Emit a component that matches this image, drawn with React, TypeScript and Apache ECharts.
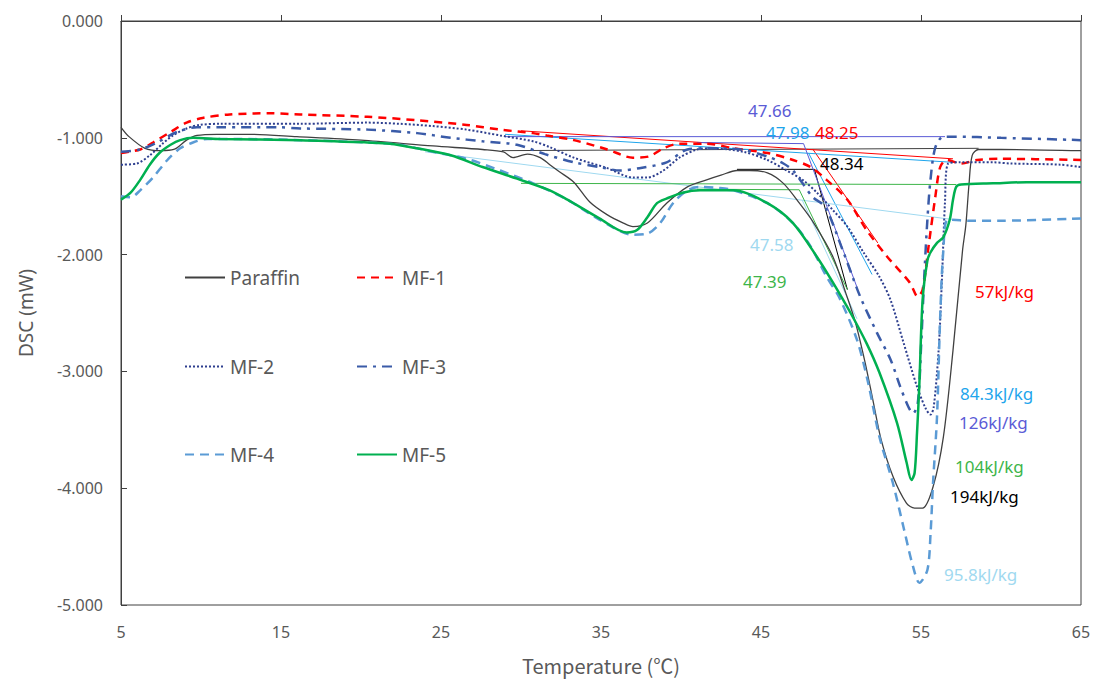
import React, { useEffect, useRef } from "react";
import * as echarts from "echarts";

// ---- data (temperature °C, DSC mW) ----
const paraffinT = [5, 5.5, 6.5, 7.5, 8.3, 9.1, 9.75, 11, 13, 16, 20, 24.5, 27.6, 28.9, 29.5, 30.4, 31.2, 31.8, 32.4, 33.3, 34.3, 35.4, 36.4, 37, 37.9, 39.1, 40.4, 41.6, 42.5, 43.5, 44.3, 45.4, 46.4, 47.4, 48.3, 49.5, 50.3, 50.9, 51.5, 52.0, 52.5, 53.25, 54.1, 54.6, 55.1, 55.75, 56.4, 57, 57.6, 57.8, 58.0, 58.2, 58.6, 60, 65];
const paraffinV = [-0.91, -0.99, -1.09, -1.11, -1.10, -1.02, -0.98, -0.97, -0.97, -0.99, -1.02, -1.07, -1.10, -1.12, -1.17, -1.14, -1.17, -1.23, -1.29, -1.38, -1.55, -1.66, -1.73, -1.76, -1.73, -1.56, -1.42, -1.36, -1.32, -1.28, -1.28, -1.30, -1.39, -1.56, -1.73, -2.02, -2.33, -2.58, -2.92, -3.25, -3.58, -3.90, -4.13, -4.17, -4.17, -3.99, -3.56, -2.82, -1.96, -1.75, -1.40, -1.15, -1.10, -1.10, -1.11];

const mf1T = [5, 6.2, 7, 8.1, 9.1, 10.1, 11.8, 14.3, 16.2, 20.4, 23.5, 26.6, 28.7, 30.75, 31.6, 33.3, 35.4, 37, 38, 38.9, 39.9, 41.6, 43.3, 45.4, 47, 48.1, 49.1, 50.4, 51.6, 52.9, 54.3, 54.8, 55.1, 55.5, 55.9, 56.2, 56.6, 57.5, 58.5, 60, 65];
const mf1V = [-1.13, -1.10, -1.04, -0.95, -0.87, -0.83, -0.80, -0.79, -0.80, -0.82, -0.85, -0.89, -0.93, -0.96, -0.98, -1.02, -1.10, -1.17, -1.16, -1.09, -1.05, -1.05, -1.09, -1.13, -1.19, -1.25, -1.36, -1.53, -1.79, -2.02, -2.24, -2.36, -2.30, -1.90, -1.50, -1.25, -1.19, -1.22, -1.19, -1.18, -1.19];

const mf2T = [5, 6, 6.8, 7.6, 8.25, 9.1, 9.9, 11.2, 16.2, 20.4, 22.4, 24.5, 26.6, 28.7, 30.75, 31.8, 33.3, 35.4, 37, 37.9, 38.9, 39.9, 41, 41.8, 43.9, 45.4, 46.6, 47.6, 48.5, 49.5, 50.4, 51.4, 52.4, 53.1, 53.9, 54.75, 55.3, 55.6, 55.8, 56.1, 56.3, 56.5, 56.7, 57.4, 59.5, 60.6, 63.7, 65];
const mf2V = [-1.23, -1.22, -1.15, -1.05, -0.98, -0.92, -0.89, -0.88, -0.88, -0.87, -0.88, -0.90, -0.93, -0.98, -1.03, -1.08, -1.17, -1.26, -1.34, -1.34, -1.28, -1.17, -1.10, -1.09, -1.12, -1.19, -1.28, -1.36, -1.47, -1.62, -1.76, -1.98, -2.19, -2.39, -2.75, -3.13, -3.32, -3.37, -3.30, -2.82, -2.24, -1.55, -1.22, -1.21, -1.21, -1.22, -1.23, -1.25];

const mf3T = [5, 6.2, 7.25, 8.5, 9.75, 11.2, 14.9, 16.2, 20.4, 23.5, 25.6, 27.6, 29.75, 31.5, 33.3, 34.9, 36.2, 37.4, 39.1, 40.4, 41.6, 43.7, 45.4, 46.4, 47, 47.6, 48.25, 49, 50.1, 51.2, 52.25, 53.1, 53.7, 54.2, 54.5, 54.8, 55.0, 55.2, 55.4, 55.6, 55.9, 56.4, 57, 60, 65];
const mf3V = [-1.12, -1.10, -1.04, -0.95, -0.91, -0.91, -0.91, -0.92, -0.93, -0.96, -1.0, -1.03, -1.06, -1.14, -1.21, -1.25, -1.28, -1.26, -1.21, -1.10, -1.09, -1.10, -1.16, -1.22, -1.28, -1.39, -1.51, -1.59, -1.96, -2.36, -2.67, -2.90, -3.13, -3.30, -3.36, -3.27, -2.80, -2.20, -1.70, -1.35, -1.08, -0.99, -0.99, -1.0, -1.02];

const mf4T = [5, 5.6, 6.2, 7, 7.9, 8.7, 9.5, 10.4, 12.25, 16.2, 20.4, 22.4, 24.5, 26.6, 28.7, 30.75, 32.9, 34.9, 37, 37.9, 38.7, 39.5, 40.4, 41.2, 42.4, 43.3, 45.4, 47, 48.1, 49.1, 49.9, 51, 51.7, 52.4, 53.25, 53.9, 54.5, 54.9, 55.4, 55.6, 55.75, 56, 56.2, 56.4, 56.7, 58, 60, 65];
const mf4V = [-1.50, -1.51, -1.45, -1.34, -1.19, -1.09, -1.04, -1.01, -1.01, -1.02, -1.04, -1.06, -1.12, -1.18, -1.28, -1.39, -1.53, -1.70, -1.83, -1.82, -1.73, -1.56, -1.45, -1.42, -1.43, -1.45, -1.56, -1.73, -1.93, -2.19, -2.37, -2.73, -3.10, -3.56, -3.96, -4.33, -4.67, -4.81, -4.70, -4.38, -3.96, -3.39, -2.53, -1.96, -1.70, -1.71, -1.71, -1.69];

const mf5T = [5, 5.6, 6.2, 6.8, 7.4, 8.1, 8.7, 9.5, 11.2, 16.2, 20.4, 21.8, 23.5, 25.6, 27.6, 29.75, 31.8, 32.9, 34.9, 36.6, 37.25, 37.9, 38.5, 39.1, 40.1, 41.2, 42.4, 43.3, 45.4, 47, 48.5, 49.5, 50.6, 51.6, 52.4, 53.5, 54.1, 54.4, 54.6, 54.75, 54.9, 55.1, 55.4, 55.6, 56, 56.4, 56.8, 57.0, 57.2, 57.5, 59.5, 61.6, 65];
const mf5V = [-1.53, -1.47, -1.36, -1.23, -1.13, -1.06, -1.02, -1.0, -1.01, -1.02, -1.04, -1.05, -1.09, -1.15, -1.25, -1.35, -1.45, -1.53, -1.69, -1.81, -1.79, -1.68, -1.56, -1.52, -1.47, -1.45, -1.45, -1.45, -1.56, -1.73, -2.02, -2.24, -2.50, -2.76, -3.01, -3.44, -3.78, -3.93, -3.87, -3.53, -3.10, -2.39, -2.05, -1.98, -1.90, -1.85, -1.70, -1.53, -1.42, -1.40, -1.39, -1.38, -1.38];

// construction (baseline / tangent) lines: [T, V] end points
const paraffinBase = [[28.8, -1.11], [58.6, -1.09]];
const paraffinTan = [[43.5, -1.27], [48.34, -1.27], [50.4, -2.30]];
const mf1Base = [[30, -0.94], [57, -1.18]];
const mf1Tan = [[48.25, -1.10], [52.3, -1.90]];
const mf2Base = [[29, -0.97], [57, -1.21]];
const mf2Tan = [[47.98, -1.133], [51.94, -2.17]];
const mf3Base = [[29, -0.99], [56.5, -0.99]];
const mf3Tan = [[41, -1.04], [47.66, -1.05], [51, -2.28]];
const mf4Base = [[24, -1.12], [57, -1.70]];
const mf4Tan = [[47.58, -1.535], [51, -2.55]];
const mf5Base = [[30, -1.39], [57.2, -1.40]];
const mf5Tan = [[41, -1.44], [47.39, -1.445], [50.4, -2.30]];

const xTicks = { min: 5, max: 65, step: 10 };
const yTicks = { min: -5, max: 0, step: 1 };

const onsetLabels = ["47.66", "47.98", "48.25", "48.34", "47.58", "47.39"];
const enthalpyLabels = ["57kJ/kg", "84.3kJ/kg", "126kJ/kg", "104kJ/kg", "194kJ/kg", "95.8kJ/kg"];

const zip = (t: number[], v: number[]) => t.map((x, i) => [x, v[i]]);

const C = {
  paraffin: "#404040",
  mf1: "#FF0000",
  mf2: "#2E3F8F",
  mf3: "#3A5BA8",
  mf4: "#5B9BD5",
  mf5: "#00B050",
  purple: "#5B5BD6",
  lblue: "#1EA5EC",
  cyan: "#9FD9F0",
  green: "#3DB54A",
  gray: "#595959",
};

export default function App() {
  const ref = useRef<HTMLDivElement>(null);
  useEffect(() => {
    if (!ref.current) return;
    const chart = echarts.init(ref.current, null, { renderer: "svg" });
    const font = "'Noto Sans', 'Open Sans', sans-serif";
    const main = (name: string, t: number[], v: number[], color: string, width: number, type: any) => ({
      name,
      type: "line",
      data: zip(t, v),
      showSymbol: false,
      symbol: "none",
      smooth: 0.3,
      lineStyle: { color, width, type },
      itemStyle: { color },
      z: 3,
    });
    const thin = (id: string, data: number[][], color: string) => ({
      name: id,
      type: "line",
      data,
      showSymbol: false,
      symbol: "none",
      silent: true,
      lineStyle: { color, width: 1 },
      z: 2,
    });
    const legendItem = (name: string, left: number, top: number) => ({
      data: [name],
      left,
      top,
      padding: 0,
      itemWidth: 40,
      itemHeight: 12,
      itemGap: 7,
      itemStyle: { opacity: 0, color: "transparent", borderWidth: 0 },
      textStyle: { fontSize: 19, color: C.gray, fontFamily: font },
      selectedMode: false,
    });
    const label = (text: string, x: number, y: number, color: string) => ({
      type: "text",
      x,
      y,
      style: { text, fill: color, font: `17px ${font}`, textVerticalAlign: "middle" },
      z: 10,
    });
    chart.setOption({
      animation: false,
      grid: { left: 121, right: 16, top: 21, bottom: 80, show: true, borderColor: C.paraffin, borderWidth: 1 },
      xAxis: {
        type: "value",
        min: xTicks.min,
        max: xTicks.max,
        interval: xTicks.step,
        name: "Temperature (℃)",
        nameLocation: "middle",
        nameGap: 50,
        nameTextStyle: { fontSize: 20, color: C.gray, fontFamily: "Noto Sans CJK SC" },
        axisLine: { lineStyle: { color: C.paraffin, width: 1 } },
        axisTick: { inside: true, length: 6, lineStyle: { color: C.paraffin } },
        axisLabel: { fontSize: 16, color: C.gray, margin: 19, fontFamily: font },
        splitLine: { show: false },
      },
      yAxis: {
        type: "value",
        min: yTicks.min,
        max: yTicks.max,
        interval: yTicks.step,
        name: "DSC (mW)",
        nameLocation: "middle",
        nameGap: 86,
        nameTextStyle: { fontSize: 19, color: C.gray, fontFamily: font },
        axisLine: { show: true, lineStyle: { color: C.paraffin, width: 1 } },
        axisTick: { show: true, inside: true, length: 6, lineStyle: { color: C.paraffin } },
        axisLabel: { fontSize: 16, color: C.gray, margin: 18, fontFamily: font, formatter: (v: number) => v.toFixed(3) },
        splitLine: { show: false },
      },
      legend: [
        legendItem("Paraffin", 184, 268),
        legendItem("MF-1", 356, 268),
        legendItem("MF-2", 184, 357),
        legendItem("MF-3", 356, 357),
        legendItem("MF-4", 184, 445),
        legendItem("MF-5", 356, 445),
      ],
      series: [
        thin("b0", paraffinBase, C.paraffin),
        thin("t0", paraffinTan, "#000000"),
        thin("b1", mf1Base, C.mf1),
        thin("t1", mf1Tan, C.mf1),
        thin("b2", mf2Base, C.lblue),
        thin("t2", mf2Tan, C.lblue),
        thin("b3", mf3Base, C.purple),
        thin("t3", mf3Tan, C.purple),
        thin("b4", mf4Base, C.cyan),
        thin("t4", mf4Tan, C.cyan),
        thin("b5", mf5Base, C.green),
        thin("t5", mf5Tan, C.green),
        main("Paraffin", paraffinT, paraffinV, C.paraffin, 1.3, "solid"),
        main("MF-1", mf1T, mf1V, C.mf1, 2.5, [8, 6]),
        main("MF-2", mf2T, mf2V, C.mf2, 2, [2, 2]),
        main("MF-3", mf3T, mf3V, C.mf3, 2.5, [10, 6, 3, 6]),
        main("MF-4", mf4T, mf4V, C.mf4, 2.5, [9, 6]),
        main("MF-5", mf5T, mf5V, C.mf5, 2.5, "solid"),
      ],
      graphic: [
        label(onsetLabels[0], 748, 110, C.purple),
        label(onsetLabels[1], 766, 132, C.lblue),
        label(onsetLabels[2], 815, 132, C.mf1),
        label(onsetLabels[3], 820, 163, "#000000"),
        label(onsetLabels[4], 750, 244, C.cyan),
        label(onsetLabels[5], 743, 281, C.green),
        label(enthalpyLabels[0], 975, 291, C.mf1),
        label(enthalpyLabels[1], 960, 393, C.lblue),
        label(enthalpyLabels[2], 959, 422, C.purple),
        label(enthalpyLabels[3], 955, 466, C.green),
        label(enthalpyLabels[4], 950, 496, "#000000"),
        label(enthalpyLabels[5], 944, 574, C.cyan),
      ],
    });
    return () => chart.dispose();
  }, []);
  return <div ref={ref} style={{ position: "absolute", left: 0, top: 0, width: 1097, height: 685 }} />;
}
